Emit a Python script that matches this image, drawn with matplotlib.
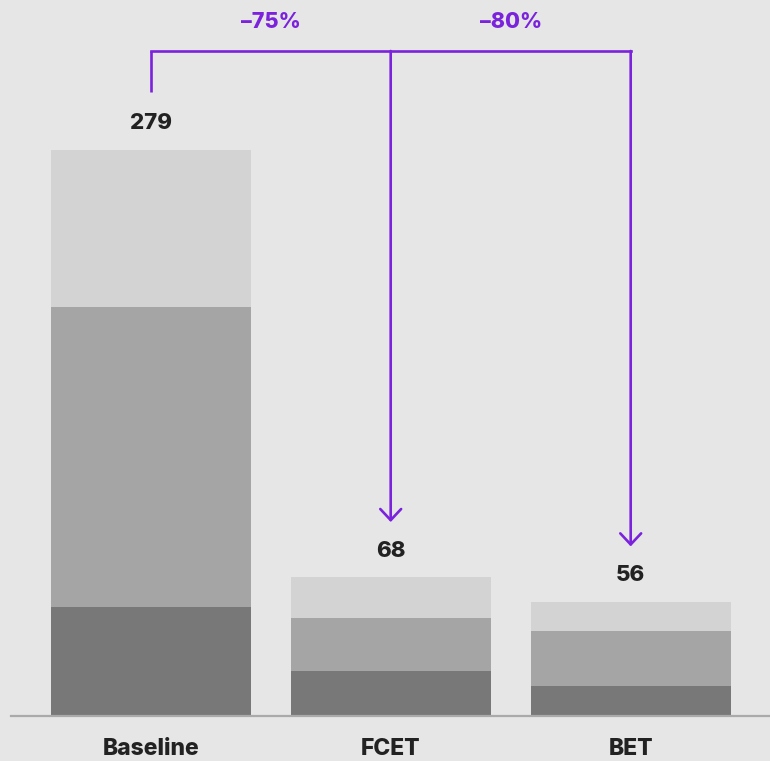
import numpy as np
import matplotlib
matplotlib.use("Agg")
import matplotlib.pyplot as plt

categories = ["Baseline", "FCET", "BET"]
bottom_seg = [53.7, 22.2, 14.8]
middle_seg = [147.9, 26.1, 27.1]
top_seg = [77.4, 20.2, 14.3]
totals = [279, 68, 56]
changes = ["\u201375%", "\u201380%"]

bg = "#e6e6e6"
purple = "#7a22dc"
plt.rcParams['font.family'] = ['Inter', 'DejaVu Sans']

fig = plt.figure(figsize=(7.7, 7.61), dpi=100, facecolor=bg)
ax = fig.add_axes([0, 45 / 761, 1, 716 / 761])
ax.set_facecolor(bg)

x = np.arange(len(categories))
w = 200 / 240
ax.bar(x, bottom_seg, width=w, color="#787878")
ax.bar(x, middle_seg, width=w, bottom=bottom_seg, color="#a5a5a5")
ax.bar(x, top_seg, width=w, bottom=np.add(bottom_seg, middle_seg), color="#d3d3d3")

ax.set_xlim(-150.7 / 240, (770 - 150.7) / 240)
ax.set_ylim(0, 716 / 2.0287)
ax.axis("off")

# baseline rule
ax.axhline(0, xmin=11 / 770, xmax=1, color="#aaaaaa", lw=1.6, clip_on=False)

for i, t in enumerate(totals):
    ax.text(x[i], t + 13.5, str(t), ha="center", va="center",
            fontsize=16, fontweight="heavy", color="#222222")
    ax.text(x[i], -16.5, categories[i], ha="center", va="center",
            fontsize=16.5, fontweight="heavy", color="#222222", clip_on=False)

# bracket with arrows
ytop = 327.8
lw = 1.9
ax.plot([x[0], x[0]], [totals[0] + 28.6, ytop], color=purple, lw=lw, solid_capstyle="butt")
ax.plot([x[0], x[2]], [ytop, ytop], color=purple, lw=lw, solid_capstyle="projecting")
for i in (1, 2):
    ax.annotate("", xy=(x[i], totals[i] + 27.6), xytext=(x[i], ytop),
                arrowprops=dict(arrowstyle="->,head_length=0.8,head_width=0.75",
                                color=purple, lw=lw, shrinkA=0, shrinkB=0))
for j, c in enumerate(changes):
    ax.text(x[j] + 0.5, 342, c, ha="center", va="center",
            fontsize=15.5, fontweight="heavy", color=purple)

fig.savefig("out.png", dpi=100, facecolor=bg)
